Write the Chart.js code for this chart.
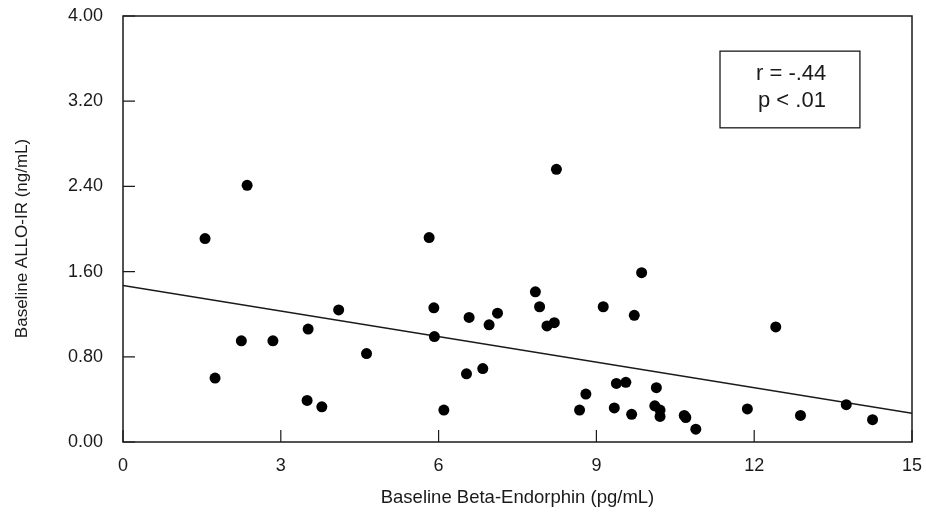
<!DOCTYPE html>
<html>
<head>
<meta charset="utf-8">
<script src="https://cdn.jsdelivr.net/npm/chart.js@4/dist/chart.umd.min.js"></script>
<style>
  html, body { margin: 0; padding: 0; background: #fff; }
  #wrap { width: 926px; height: 515px; }
</style>
</head>
<body>
<div id="wrap"><canvas id="scatterChart" width="926" height="515"></canvas></div>
<script>
// Baseline Beta-Endorphin (pg/mL)
const betaEndorphin = [
    1.56, 1.75, 2.25, 2.36, 2.85, 3.50, 3.52, 3.78, 4.10, 4.63,
    5.82, 5.91, 5.92, 6.10, 6.53, 6.58, 6.84, 6.96, 7.12, 7.84,
    7.92, 8.06, 8.20, 8.24, 8.68, 8.80, 9.13, 9.34, 9.38, 9.56,
    9.67, 9.72, 9.86, 10.11, 10.14, 10.21, 10.21, 10.67, 10.70, 10.89,
    11.87, 12.41, 12.88, 13.75, 14.25
];
// Baseline ALLO-IR (ng/mL)
const alloIR = [
    1.91, 0.60, 0.95, 2.41, 0.95, 0.39, 1.06, 0.33, 1.24, 0.83,
    1.92, 1.26, 0.99, 0.30, 0.64, 1.17, 0.69, 1.10, 1.21, 1.41,
    1.27, 1.09, 1.12, 2.56, 0.30, 0.45, 1.27, 0.32, 0.55, 0.56,
    0.26, 1.19, 1.59, 0.34, 0.51, 0.30, 0.24, 0.25, 0.23, 0.12,
    0.31, 1.08, 0.25, 0.35, 0.21
];
// fitted line end points
const fitX = [0, 15];
const fitY = [1.47, 0.27];

const xTicks = [0, 3, 6, 9, 12, 15];
const yTicks = [0, 0.8, 1.6, 2.4, 3.2, 4.0];
const statLines = ['r = -.44', 'p < .01'];

const ink = '#1a1a1a';

const points = betaEndorphin.map((x, i) => ({ x: x, y: alloIR[i] }));
const fitLine = fitX.map((x, i) => ({ x: x, y: fitY[i] }));

// frame, inward ticks and the stats box
const framePlugin = {
    id: 'frame',
    afterDraw(chart) {
        const c = chart.ctx;
        const a = chart.chartArea;
        const xs = chart.scales.x;
        const ys = chart.scales.y;
        c.save();
        c.strokeStyle = ink;
        c.lineWidth = 1.5;
        c.strokeRect(a.left, a.top, a.right - a.left, a.bottom - a.top);

        c.lineWidth = 1.2;
        c.beginPath();
        xTicks.forEach(v => {
            const px = xs.getPixelForValue(v);
            c.moveTo(px, a.bottom);
            c.lineTo(px, a.bottom - 12);
        });
        yTicks.forEach(v => {
            const py = ys.getPixelForValue(v);
            c.moveTo(a.left, py);
            c.lineTo(a.left + 12, py);
        });
        c.stroke();

        // stats box
        const bx1 = xs.getPixelForValue(11.35);
        const bx2 = xs.getPixelForValue(14.01);
        const by1 = ys.getPixelForValue(3.67);
        const by2 = ys.getPixelForValue(2.95);
        c.fillStyle = '#fff';
        c.fillRect(bx1, by1, bx2 - bx1, by2 - by1);
        c.lineWidth = 1.3;
        c.strokeRect(bx1, by1, bx2 - bx1, by2 - by1);
        c.fillStyle = ink;
        c.font = '22px "Liberation Sans", Arial, sans-serif';
        c.textAlign = 'left';
        c.textBaseline = 'middle';
        c.fillText(statLines[0], bx1 + 36, by1 + 23);
        c.fillText(statLines[1], bx1 + 38, by1 + 50);
        c.restore();
    }
};

new Chart(document.getElementById('scatterChart'), {
    type: 'scatter',
    data: {
        datasets: [
            {
                label: 'fit',
                type: 'line',
                data: fitLine,
                borderColor: ink,
                borderWidth: 1.5,
                pointRadius: 0,
                fill: false,
                order: 2
            },
            {
                label: 'subjects',
                data: points,
                backgroundColor: '#000',
                borderColor: '#000',
                borderWidth: 0,
                pointRadius: 5.5,
                order: 1
            }
        ]
    },
    options: {
        responsive: false,
        animation: false,
        layout: {
            autoPadding: false,
            padding: { left: 0, right: 14, top: 16, bottom: 0 }
        },
        plugins: {
            legend: { display: false },
            tooltip: { enabled: false }
        },
        scales: {
            x: {
                type: 'linear',
                min: 0,
                max: 15,
                afterBuildTicks: scale => { scale.ticks = xTicks.map(v => ({ value: v })); },
                afterFit: scale => {
                    scale.height = 73;
                    scale.paddingLeft = 0;
                    scale.paddingRight = 0;
                },
                grid: { display: false, drawTicks: false },
                border: { display: false },
                ticks: {
                    color: ink,
                    padding: 13,
                    font: { family: '"Liberation Sans", Arial, sans-serif', size: 18 },
                    callback: value => String(value)
                },
                title: {
                    display: true,
                    text: 'Baseline Beta-Endorphin (pg/mL)',
                    color: ink,
                    padding: { top: 0, bottom: 6 },
                    font: { family: '"Liberation Sans", Arial, sans-serif', size: 18.5 }
                }
            },
            y: {
                type: 'linear',
                min: 0,
                max: 4,
                afterBuildTicks: scale => { scale.ticks = yTicks.map(v => ({ value: v })); },
                afterFit: scale => {
                    scale.width = 123;
                    scale.paddingTop = 0;
                    scale.paddingBottom = 0;
                },
                grid: { display: false, drawTicks: false },
                border: { display: false },
                ticks: {
                    color: ink,
                    padding: 20,
                    font: { family: '"Liberation Sans", Arial, sans-serif', size: 18 },
                    callback: value => Number(value).toFixed(2)
                },
                title: {
                    display: true,
                    // trailing no-break spaces nudge the title down a little, as in the original
                    text: 'Baseline ALLO-IR (ng/mL)\u00a0\u00a0\u00a0\u00a0',
                    color: ink,
                    padding: { top: 12, bottom: 0 },
                    font: { family: '"Liberation Sans", Arial, sans-serif', size: 17 }
                }
            }
        }
    },
    plugins: [framePlugin]
});
</script>
</body>
</html>
